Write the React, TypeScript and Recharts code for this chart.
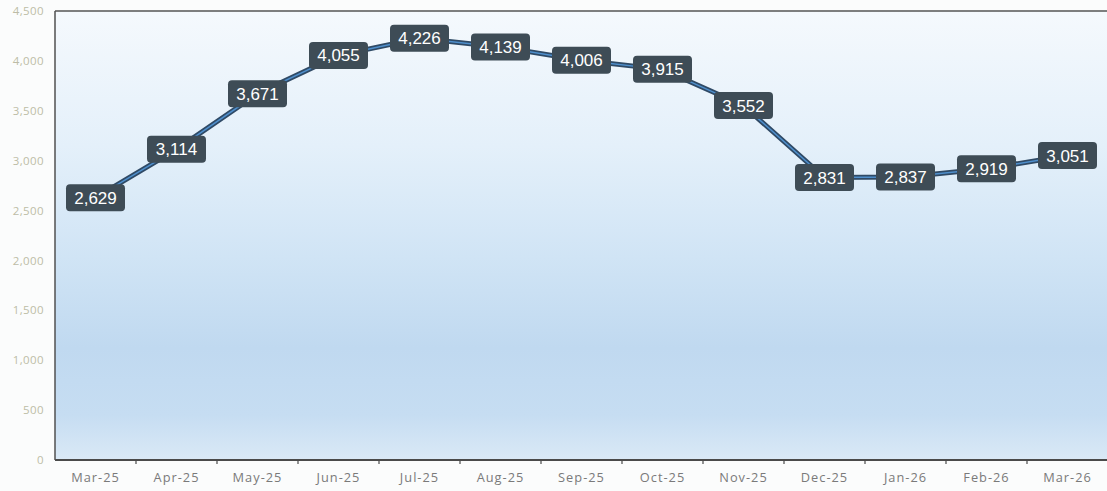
import React from 'react';
import {
  LineChart,
  Line,
  XAxis,
  YAxis,
  CartesianGrid,
  LabelList,
  ReferenceLine,
} from 'recharts';

// month labels and monthly totals
const months = [
  'Mar-25', 'Apr-25', 'May-25', 'Jun-25', 'Jul-25', 'Aug-25', 'Sep-25',
  'Oct-25', 'Nov-25', 'Dec-25', 'Jan-26', 'Feb-26', 'Mar-26',
];
const totals = [2629, 3114, 3671, 4055, 4226, 4139, 4006, 3915, 3552, 2831, 2837, 2919, 3051];
const yTicks = [0, 500, 1000, 1500, 2000, 2500, 3000, 3500, 4000, 4500];

const data = months.map((month, i) => ({ month, total: totals[i] }));

const fmt = (v: number) => v.toLocaleString('en-US');

const HALF_BAND = 40.5;

// dark rounded badge with the value, centred on the point
const ValueBadge = (props: any) => {
  const { x, y, value } = props;
  if (x == null || y == null) return null;
  const text = fmt(Number(value));
  const w = text.length * 9.8 + 10;
  const h = 27;
  return (
    <g>
      <rect x={x - w / 2} y={y - h / 2} width={w} height={h} rx={4} ry={4} fill="#3e4c56" />
      <text
        x={x}
        y={y + 6}
        textAnchor="middle"
        fill="#ffffff"
        fontSize={17}
        fontFamily="'Liberation Sans', Arial, sans-serif"
      >
        {text}
      </text>
    </g>
  );
};

// month label plus a small tick mark at the boundary to its right
const MonthTick = (props: any) => {
  const { x, y, payload } = props;
  return (
    <g>
      <line x1={x + HALF_BAND} x2={x + HALF_BAND} y1={y - 10} y2={y - 6} stroke="#4a4a4a" strokeWidth={1.2} />
      <text
        x={x}
        y={y + 12}
        textAnchor="middle"
        fill="#7a7a7a"
        fontSize={12.8}
        letterSpacing={1}
        fontFamily="'Open Sans', sans-serif"
      >
        {payload.value}
      </text>
    </g>
  );
};

const App: React.FC = () => {
  return (
    <div
      style={{
        position: 'fixed',
        left: 0,
        top: 0,
        width: 1107,
        height: 491,
        overflow: 'hidden',
        background: '#fbfcfc',
      }}
    >
      <LineChart width={1114} height={491} data={data} margin={{ top: 11, right: 6, bottom: 0, left: 0 }}>
        <defs>
          <linearGradient id="plotBg" x1="0" y1="0" x2="0" y2="1">
            <stop offset="0%" stopColor="#f5f9fd" />
            <stop offset="30%" stopColor="#e4f0fa" />
            <stop offset="55%" stopColor="#d0e4f5" />
            <stop offset="75%" stopColor="#c0d9f0" />
            <stop offset="90%" stopColor="#c6ddf2" />
            <stop offset="100%" stopColor="#dae9f6" />
          </linearGradient>
        </defs>
        <CartesianGrid horizontal={false} vertical={false} fill="url(#plotBg)" />
        <XAxis
          dataKey="month"
          height={31}
          padding={{ left: HALF_BAND, right: HALF_BAND }}
          axisLine={{ stroke: '#4a4a4a', strokeWidth: 2 }}
          tickLine={false}
          tickSize={4}
          tickMargin={6}
          tick={<MonthTick />}
          interval={0}
        />
        <YAxis
          width={55}
          domain={[0, 4500]}
          ticks={yTicks}
          tickFormatter={fmt}
          axisLine={{ stroke: '#505050', strokeWidth: 1.5 }}
          tickLine={false}
          tickSize={4}
          tickMargin={7}
          tick={{ fill: '#bdbca6', fontSize: 11.5, letterSpacing: 0.4, fontFamily: "'Open Sans', sans-serif" }}
        />
        <ReferenceLine y={4500} stroke="#555555" strokeWidth={1.5} />
        <Line
          type="linear"
          dataKey="total"
          stroke="#2f4a66"
          strokeWidth={5}
          dot={false}
          activeDot={false}
          isAnimationActive={false}
        />
        <Line
          type="linear"
          dataKey="total"
          stroke="#4f8fcc"
          strokeWidth={1.5}
          dot={false}
          activeDot={false}
          isAnimationActive={false}
        >
          <LabelList dataKey="total" content={<ValueBadge />} />
        </Line>
      </LineChart>
    </div>
  );
};

export default App;
